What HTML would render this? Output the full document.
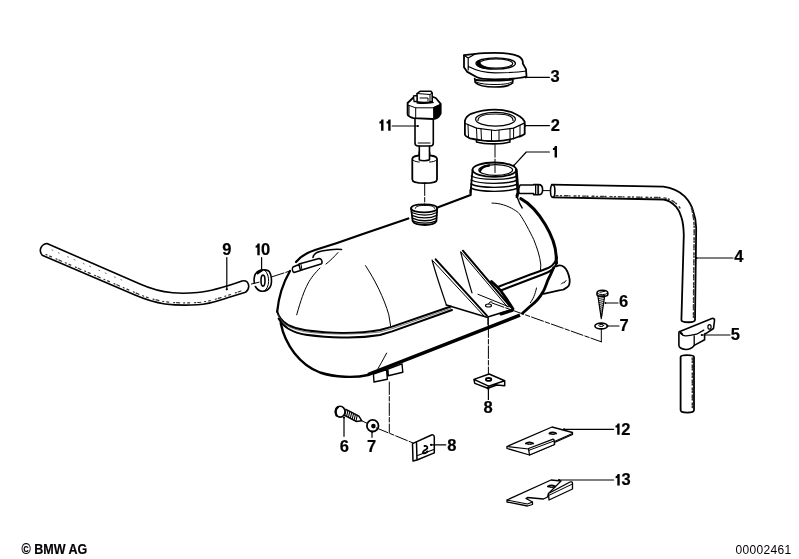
<!DOCTYPE html>
<html><head><meta charset="utf-8">
<style>
html,body{margin:0;padding:0;background:#fff;}
body{width:799px;height:559px;overflow:hidden;position:relative;}
svg{position:absolute;left:0;top:0;}
.t{font-family:"Liberation Sans",sans-serif;font-weight:bold;font-size:16.5px;fill:#000;stroke:#000;stroke-width:0.2px;}
</style></head><body>
<svg width="799" height="559" viewBox="0 0 799 559">
<g fill="none" stroke="#000" stroke-linecap="round" stroke-linejoin="round">

<!-- ===== Hose 9 ===== -->
<path stroke-width="1.6" d="M47,243.5 L140,284 C150,288.5 160,291.5 172.6,292.8 C180,293.4 190,293.2 197.6,292.5 C212,291.2 228,286 242,281 C249,279.5 251,288 245.5,292.3 L230,297 C220,300 210,304 197.6,304.8 C185,305.5 175,305.3 165,304 C155,302.5 145,299.3 135,295 L42.2,255.2 C38.5,251 40.5,244.5 47,243.5 Z"/>
<path stroke-width="1.2" stroke="#333" stroke-dasharray="1,3,2,5,1,2,3,4" d="M46,254.5 L135,292.6 C145,297 155,300.2 165,301.7 C175,303 185,303.2 197.6,302.5 C210,301.7 220,298 244,290"/>
<path stroke-width="1" stroke="#777" stroke-dasharray="1,6,1,9" d="M52,250 L125,281.5"/>

<!-- ===== Clamp 10 ===== -->
<path stroke-width="1.6" d="M262,270 C266,269.5 268.5,270 269.5,272 C271.5,275 272,281 271,285 C270,289 266,291.5 262,291.3 C259,291 256.5,288.5 255.4,286.5"/>
<path stroke-width="1.6" d="M254.4,283 C253.5,279 254.5,274 257,272 C259,270.5 260.5,270 262,270"/>
<ellipse cx="263" cy="280.6" rx="2" ry="5.5" stroke-width="1.6"/>
<path stroke-width="2.4" d="M257.5,273.2 L261.5,270.6"/>
<path stroke-width="1" d="M264.8,270.3 C267.5,272.5 268.8,277 268.6,281.5 C268.4,286 266.8,289.2 264.5,290.8"/>

<!-- ===== Tank ===== -->
<!-- top outline -->
<path stroke-width="2.2" d="M296,262 C300,257 307,252.5 315,250 C330,245.5 345,240.5 360,235 L408.3,218.5"/>
<path stroke-width="2.2" d="M438.1,207.2 L470.6,195 L470.6,190"/>
<!-- shoulder inner line -->
<path stroke-width="1.6" d="M313,257.5 C313.5,254 317,252 321,251.2 C328,249.8 334,248.5 341.5,249.5"/>
<!-- nipple -->
<path stroke-width="1.5" d="M299,264 L319,258.5 C322,258.5 323,263 321,264 L300,270.5 M293,267 L299,264.5 L300.5,270.5 L294,272.5 C292,271.5 292,268 293,267 Z"/>
<path stroke-width="1" d="M301,264.5 L302,270"/>
<!-- left end outer -->
<path stroke-width="2.3" d="M290,271 C283,283 278.5,298 277.2,311.5"/>
<!-- band (seam) -->
<path stroke-width="2" d="M277.2,311.5 C279,318 283,322 287.9,324.9 C293,327.5 300,329.5 305.8,330.2 C318,331.8 330,332.8 341.6,332.9 C355,333 368,332.2 380,330 L392.2,326.6 L450.7,306.5"/>
<path stroke-width="0.8" stroke="#555" d="M278,315 C281,320 284,324 289,326.8 C296,330 303,331.7 310,332.4 C330,334.5 355,334.8 380,332 L392.2,328.6 L451,308.3"/>
<path stroke-width="2" d="M278.6,318.6 C281,323 284,326 287.9,328.5 C293,331.5 300,334 305.8,334.7 C318,336.3 330,337.3 341.6,337.4 C355,337.8 368,337 380,335 L392.2,331.4 L452,310"/>
<path stroke-width="2" d="M499,286.5 L530.4,274.5 C540,271 547,269 549.8,267.2 C554,264.5 556,261 557,257.5"/>
<path stroke-width="2" d="M501.4,290.2 L542.5,274.5 C547,273 550,271.5 552.2,269.6 C555,267 556.5,265 557,262.4"/>
<!-- lower bowl left -->
<path stroke-width="1.4" fill="#fff" d="M373.4,374 L386.5,369.5 L387.4,379.2 L374,382 Z M387.9,369 L402,363.8 L402.8,372.2 L388.3,375.7 Z"/>
<path stroke-width="2.4" d="M280.7,323.1 C285,345 300,365 320,372.5 C335,377.5 355,378 368,375"/>
<!-- bottom long line -->
<path stroke-width="3.4" stroke-linecap="butt" d="M368,374.6 L373,372.6 L520,315.2"/>
<!-- right end -->
<path stroke-width="3" d="M520.8,198.6 C538,208 557,238 556.2,259.5 L556.5,263"/>
<path stroke-width="1.4" d="M517.5,197.9 C518.5,201 519.5,204 522.2,208"/>
<path stroke-width="2.8" d="M553.5,268 C551,274 549.5,277 547.9,280 C546,285 545,288 543.6,290.7 C541.5,294.5 539.5,297.5 537.2,300 C535,302.5 532.5,304.5 530,306.5 L522.5,313.2"/>
<path stroke-width="2.8" d="M491.5,281.5 C495.5,285 499,288.5 501.3,291.5 C505,297 509,302 513,309"/>
<!-- outlet -->
<path stroke-width="1.8" d="M556.7,266.3 C559,265 562,265.5 564,267 C566.5,269 568.5,273 569.6,279.1 C570,283 569,286 567.2,287.2 C565,289.5 562,290.2 559.1,290.4 L543.6,293.8"/>
<path stroke-width="1" d="M561.5,284 L563.5,282 M564,283 L566,280.5"/>
<!-- inner thin lines -->
<path stroke-width="1" d="M492,203.1 C500,203 508,206 513.6,209.4 C516,211 518,212 519.3,213.7 C524,220 530,232 533.7,239.4 C537,248 540,256 540.8,265 L540.5,270"/>
<path stroke-width="1" d="M536.5,288 C535,295 533,299 530.3,302.8"/>
<path stroke-width="1" d="M365.5,265.6 C375,280 384,298 388.8,314.8 L390.6,325.8"/>
<path stroke-width="1" d="M386.6,353.1 C383,360 380,365 377.7,369.2"/>
<path stroke-width="1" d="M320,268 C310,278 305,285 296.7,314.8"/>
<path stroke-width="1" d="M338,252.5 C334,257 330,261 326,264"/>

<!-- threaded fitting -->
<path stroke-width="1.8" d="M411.1,208.4 C411.1,205.5 418,204.4 424.1,204.4 C430.5,204.4 437.2,205.5 437.2,208.4 C437.2,211 430.5,212.4 424.1,212.4 C418,212.4 411.1,211 411.1,208.4 Z"/>
<path stroke-width="1" d="M415.3,208.3 C415.3,206 420,205.4 425,205.4 C430,205.4 434.6,206 434.6,208.3"/>
<path stroke-width="1.8" d="M411.1,208.4 L412.7,221.2 C414,224 420,225 425,225 C430,225 435,224 436.4,221.2 L437.2,208.4"/>
<path stroke-width="1.3" d="M411.6,212.5 C420,216 430,216 437,212.5 M411.9,215.3 C420,218.8 430,218.8 436.8,215.3 M412.2,218.1 C420,221.6 430,221.6 436.6,218.1 M412.5,220.8 C420,224 430,224 436.5,220.8"/>

<!-- neck -->
<ellipse cx="494.4" cy="169.7" rx="21.9" ry="7.2" stroke-width="1.8"/>
<ellipse cx="495.7" cy="170" rx="16.9" ry="5.3" stroke-width="1.2"/>
<path stroke-width="2.4" d="M480,171 C481,167.5 485,166 489,165.5"/>
<path stroke-width="1.8" d="M472.5,170 L470.6,192.5"/><path stroke-width="2.8" d="M516.3,170 L518,192.5 L517,197"/>
<path stroke-width="1.4" d="M471.3,176 C480,180.5 508,180.5 517.4,176 M471.1,180 C480,184.5 508,184.5 517.6,180 M470.9,184 C480,188.5 508,188.5 517.8,184 M470.7,188 C480,192.5 508,192.5 518,188"/>
<path stroke-width="1.8" d="M518,192.5 L516.4,195.5"/>
<!-- hose connector on neck -->
<path stroke-width="1.6" fill="#fff" d="M520,185 L533.6,185 L533.6,184.6 L538.6,184.6 C541.5,184.6 542.6,187 542.6,189.7 C542.6,192.5 541.5,194.8 538.6,194.8 L533.6,194.8 L533.6,193.5 L520,193.5 C518.5,193.5 518,189 520,185 Z"/>
<path stroke-width="1" d="M535.5,184.8 L535.5,194.6 M537.2,184.8 L537.2,194.6 M538.6,184.8 L538.6,194.6"/>

<!-- bracket -->
<path stroke-width="1.2" d="M432.1,260 C436,275 442,292 446.4,305"/>
<path stroke-width="2" d="M435.7,259.3 L486.9,315.6"/>
<path stroke-width="1" d="M433,261 L484,316"/>
<path stroke-width="1.2" d="M460.7,252 C464,265 468,280 472,292.9"/>
<path stroke-width="2" d="M462.9,250.7 L510.3,306.7"/>
<path stroke-width="1" d="M461,252 L507.5,307"/>
<path stroke-width="1.6" d="M446.4,305 L486.9,317.2 L510.3,310"/>
<path stroke-width="1" d="M478,294.3 L508.6,306.7"/>
<path stroke-width="1.6" d="M488.1,317.2 L488.1,324.5"/>
<ellipse cx="488.5" cy="305.5" rx="3" ry="1.5" stroke-width="1.2"/>
<path stroke-width="1" d="M488.5,304 L490,301.9 L492,302"/>
<path stroke-width="3" d="M501,314 L512,310.5"/>



<!-- ===== Part 11 ===== -->
<path stroke-width="1.8" fill="#fff" d="M407.6,103 L413.4,97.5 L422,95.3 L430,95.8 L435.8,98 L440.7,103.8 L440.7,113.6 C439,117 436,119 433.1,119 L413.4,118.1 C410,117 407.6,115.5 407.6,114.5 Z"/>
<path stroke-width="1" d="M408,105.1 L415.7,107.8 L433.1,107.8 L440.7,104.2 M409,105.5 L409,115.5 M415.7,107.8 L415.7,118.3"/>
<path fill="#000" stroke="none" d="M433.1,107.3 L440.9,103.8 L440.9,113.6 C439,117 436,119.2 433.1,119.2 Z"/>
<path fill="#000" stroke="none" d="M417,101 L432.5,100.5 L434,103 C428,104.2 421,104.3 416.5,103.5 Z"/>
<path stroke-width="1.5" fill="#fff" d="M417,101.8 L417,93.5 L420,91.3 L431,91.3 L432.2,93 L432.2,101.5 C428,102.5 421,102.5 417,101.8 Z"/>
<path stroke-width="1" d="M417,93.5 L430,94.5 L432.2,93 M430,94.5 L430,101.8 M420,98 L428,98 L428,100.5"/>
<path stroke-width="1.3" fill="#fff" d="M413.5,96 L417,95.5 L417,101.5 L414,101.5 Z"/>
<path stroke-width="1.6" d="M415,118.5 L415,143 C415,145.5 417,146 418.2,146 L430.5,146 C432,146 433.3,145 433.3,143 L433.3,119"/>
<path stroke-width="1.2" d="M418.2,143 L430,143"/>
<path stroke-width="1.6" d="M419.3,146 L419.3,156 M429.5,146 L429.5,156"/>
<path stroke-width="1.8" fill="#fff" d="M412.3,158.7 C412.3,156.5 418,155.2 424.7,155.2 C431,155.2 437,156.5 437,158.7 L437,179.4 C437,182 431,183.1 424.7,183.1 C418,183.1 412.3,182 412.3,179.4 Z"/>
<path stroke-width="1.6" fill="#fff" d="M419.3,152 L419.3,159.8 C421,161 427.5,161 429.5,159.8 L429.5,152"/>
<path stroke-width="1" d="M412.8,160 C415,161.5 417,162 419.3,162 M429.5,162 C432,162 435,161.5 436.5,160"/>

<!-- ===== Cap 2 ===== -->
<path stroke-width="1.8" d="M464.9,120.7 C466,117 468.5,115 471,113.8 C480,110.5 488,109.6 495,109.6 C505,109.6 515,112 522.8,118.9 L524.7,121.7 L524.7,134 C522,136 519.1,136.5 519.1,136.5 C512,139.5 503,141.1 495,141.1 C487,141.1 477,140 470,138.3 C467,137 464.9,135.5 464.9,134.6 Z"/>
<path stroke-width="1.2" d="M465.4,123.5 L476.5,128.1 L495,130.5 L513.6,128.1 L524.2,123.1"/>
<path stroke-width="1" d="M468,124.8 L468.5,137 M476.5,128.1 L477,139.5 M481,129 L481.5,140.2 M491.5,130.2 L491.5,141 M499,130.3 L499,141 M510,128.6 L510,139.8 M513.6,128.1 L513.6,139 M520,125.5 L520,137"/>
<ellipse cx="495.5" cy="119.3" rx="19.9" ry="6.9" stroke-width="1.2"/>
<path stroke-width="1.2" d="M478,120.5 C478,116 486,114 495.5,114 C505,114 513,116 513,120.5"/>
<path stroke-width="1.6" d="M476.5,140 L476.5,142 C485,144.5 502,144.5 509.9,142 L509.9,140"/>

<!-- ===== Cap 3 ===== -->
<path stroke-width="1.8" d="M464,67.2 L464,55.2 L475.6,53.8 C483,52.9 490,52.9 495,52.9 C505,52.9 513,54 518.2,56.1 C521,57.5 522.5,59.5 522.8,61.7 L522.8,63.5 L526,69.1 L526.5,76.5 C520,78.5 510,79.3 495,79.3 C486,79.3 479,78.5 476.5,77 L467.3,71.9 L464,67.2"/>
<path stroke-width="1.2" d="M464,55.2 L468.2,58 L468.2,70 M468.2,58 L475.6,53.8 M469,66.8 C475,70 485,72.8 495,72.8 C508,72.8 518,72.5 526,71"/>
<ellipse cx="495.7" cy="63.5" rx="19.7" ry="5.6" stroke-width="1.4"/>
<ellipse cx="496" cy="63.5" rx="16.7" ry="4.6" stroke-width="1.2"/>
<path fill="#000" stroke="none" d="M477.2,61.2 C475.5,64 477,67.6 484,68.9 C488,69.5 492,69.5 495,69.1 C489,68 483.5,66.5 481,63.8 C480.3,62.8 480.2,61.6 480.8,60.4 Z"/>
<path stroke-width="1.7" d="M474.7,78.5 L475.3,82.5 C478,85.5 487,87 495,87 C503,87 510,85.5 512.6,83 L513,78.5"/>
<path stroke-width="1" d="M476,82 C481,84.2 488,84.5 495,84.5 C503,84.5 509,83.8 512,82"/>
<path stroke-width="1.8" d="M476,80 C485,81 505,81 512,79.6"/>

<!-- ===== Hose 4 ===== -->
<path stroke-width="1.8" d="M551.7,184.6 L663.4,186.7 C673,188 680,192 684.7,196.3 C689,201 692,206 693.2,211.2 C695,216 696,221 696.2,228 L695,320 C695,323 681.4,323 681.4,320 L683.8,235 C683.6,228 683,222 681.5,217.6 C680,212 678,209 676.2,206.9 C672,202.5 668,200 663.4,199.5 L552.8,197.3"/>
<ellipse cx="552.7" cy="191" rx="2.2" ry="6.3" stroke-width="1.6"/>
<path stroke-width="1.4" stroke="#333" stroke-dasharray="2,2.5,1,3,3,1.5,1,4" d="M556,195.6 L662,197.6 C670,198.5 676,202 680,208"/><path stroke-width="1.5" stroke="#333" stroke-dasharray="2,1.5,1,2.5,3,1,1,3" d="M691.5,208 C693,214 694,220 694.2,228 L693.4,318"/>
<!-- clamp 5 -->
<path stroke-width="1.6" fill="#fff" d="M678.9,332.5 C679,331.5 680,331 680.5,331.3 L711.9,318.5 C713.5,318 714.8,319 714.5,320.5 L713.5,328.5 L706.2,333.3 L704.6,334 L704.6,339.8 L694.2,345.4 C692,348 689,349.5 686.1,349.5 C682,349.5 679,347.5 678.9,345.4 Z"/>
<path stroke-width="1.3" d="M680.5,333 C682,335 684,336 686.1,335.8 C690,335.8 693,335 696.6,334.2 L703.8,330.1 M694.2,336 L694.2,345.4"/>
<path stroke-width="2" d="M680.5,332.5 L682,334"/>
<ellipse cx="709.5" cy="326.9" rx="1.6" ry="2.2" stroke-width="1.2"/>
<!-- lower hose -->
<path stroke-width="1.8" d="M680.6,357 C680.6,354.5 694,354.5 694,357 L694,410 C694,413.5 680.6,413.5 680.6,410 Z"/>
<path stroke-width="1.5" stroke="#333" stroke-dasharray="2,1.5,1,2.5,3,1,1,3" d="M692.3,358 L692.3,410"/>

<!-- ===== screws/washers top ===== -->
<path stroke-width="1.6" fill="#fff" d="M597,293 C597,289.3 607.8,289.3 607.8,293 L607.8,294.8 C607.8,296.8 597,296.8 597,294.8 Z"/>
<path stroke-width="1" d="M597.5,293.5 C599,295 606,295 607.3,293.5 M600,292.3 L605,291.2"/>
<path stroke-width="1.2" d="M598,296.5 L601.3,318.6 L604.6,296.5"/>
<path stroke-width="0.9" d="M598.07,296.50 L604.53,295.50 M598.35,298.50 L604.25,297.50 M598.63,300.50 L603.97,299.50 M598.91,302.50 L603.69,301.50 M599.19,304.50 L603.41,303.50 M599.47,306.50 L603.13,305.50 M599.76,308.50 L602.84,307.50 M600.04,310.50 L602.56,309.50 M600.32,312.50 L602.28,311.50 M600.60,314.50 L602.00,313.50 M600.88,316.50 L601.72,315.50"/>
<ellipse cx="601.2" cy="326" rx="6.3" ry="2.9" stroke-width="1.6"/>
<ellipse cx="601.2" cy="325.5" rx="2.4" ry="1" stroke-width="1"/>
<path stroke-width="1" d="M601.3,329 L601.3,341.8"/>
<!-- bottom screw -->
<path stroke-width="1.5" fill="#fff" d="M345.89,409.34 L358.89,416.14 L361.8,420.8 L356.11,421.46 L343.11,414.66"/>
<path stroke-width="1.1" d="M344.75,415.51 L346.11,409.46 M346.60,416.49 L347.97,410.43 M348.46,417.46 L349.82,411.40 M350.32,418.43 L351.68,412.37 M352.18,419.40 L353.54,413.34 M354.03,420.37 L355.40,414.31 M355.89,421.34 L357.25,415.29"/>
<ellipse cx="340.2" cy="411.7" rx="4.8" ry="5.4" stroke-width="1.6" fill="#fff"/>
<path stroke-width="2.2" d="M338,407 C335.5,408.5 335,412.5 336.5,415.5"/>
<path stroke-width="1" d="M361.8,420.8 L367.5,423.5"/>
<circle cx="372.7" cy="425.7" r="5.8" stroke-width="1.8" fill="#fff"/>
<circle cx="373.4" cy="426.1" r="2.3" fill="#000" stroke="none"/>
<!-- nuts 8 -->
<path stroke-width="1.5" d="M473.9,379.4 L489.1,374 L504.7,380.7 L488.6,386.1 Z M473.9,379.4 L474.8,383.4 L487.7,388.3 L488.6,386.1 M487.7,388.3 L496.7,385 L504.7,385.7 L504.7,380.7"/>
<ellipse cx="488.6" cy="379.4" rx="2.7" ry="1.4" stroke-width="1.8"/>
<path stroke-width="1.5" d="M412.5,443.6 L431.5,435 C433,434.5 434.3,435.5 434.3,437.2 L434.3,452.9 L417,460 L413,461 Z M416.5,442 L417,460"/>
<path stroke-width="1.1" d="M417.5,455.5 L433.8,449.5"/>
<path stroke-width="1.8" d="M424.5,446 C427.5,445.5 428.5,448 426,449.5 C424,450.5 422.5,451.5 423,453 C424.5,454 426.5,452.5 427.5,451.5"/>

<!-- plates 12, 13 -->
<path stroke-width="1.3" fill="#fff" d="M507,446.5 L552,427 L572.5,432.5 L572.5,434.5 L554.5,442.5 L554.5,444.5 L529.5,455 L507,448.5 Z"/>
<path stroke-width="1.1" d="M507,446.5 L528.5,449 M554.5,441.5 L572.5,433.5"/>
<path stroke-width="1.3" fill="#fff" d="M528.5,448.5 L552.5,439.3 C553.5,439 554,439.5 554,440 L554.5,444.5 L529.5,455 Z"/>
<path stroke-width="1" d="M529,450.3 L554,441"/>
<path stroke-width="2" d="M549.5,433.5 C551,432 555,432 556,433.5 M526,443.5 C527,442 532,442 533,443.5"/>
<path stroke-width="1" d="M549.5,433.5 C551,435 555,435 556,433.5 M526,443.5 C527,445 532,445 533,443.5"/>
<path stroke-width="1.3" fill="#fff" d="M507,500 L551,480 L561,481 L548.5,493.5 L547.5,497 L543.5,499 L527.5,497.5 L526,498.5 L532.5,502 L532.5,504.5 L527.5,506 L507,502 Z"/>
<path stroke-width="1.1" d="M507,500 L527.5,504 L532.5,502"/>
<path stroke-width="1.3" fill="#fff" d="M548.5,493.5 L570,482 C571.5,481.5 572.5,482 572.5,483 L572.5,489 L549,500 Z"/>
<path stroke-width="1" d="M549,495.3 L572,484.2"/>
<path stroke-width="2" d="M548,486.5 C550,485 554,485 555,486.5"/>
<path stroke-width="1" d="M548,486.5 C550,488 554,488 555,486.5"/>

<!-- ===== leader lines ===== -->
<path stroke-width="1.2" d="M226.8,257.5 L226.8,289.3 M261.6,257.7 L261.6,270 M392.2,126 L417.8,126 M525.8,77.3 L549.4,77.3 M525.1,125.7 L549.4,125.7 M513.8,165.6 L526.3,152 L549.4,152 M696.4,258 L733,258 M701.8,335 L730,335 M606.8,303 L618,303 M606.8,326 L619,326 M344,417.5 L344,436.3 M372,431.6 L372,437.3 M430.7,444.8 L445.8,444.8 M564,429.3 L613.6,429.3 M559,480 L613.6,480 M488.4,388.8 L488.4,399.5"/>
<!-- leader dots -->
<circle cx="226.8" cy="289.3" r="1.1" fill="#000" stroke="none"/> <circle cx="261.6" cy="270.3" r="1.1" fill="#000" stroke="none"/> <circle cx="417.8" cy="126" r="1.1" fill="#000" stroke="none"/> <circle cx="525.8" cy="77.3" r="1.1" fill="#000" stroke="none"/> <circle cx="525.1" cy="125.7" r="1.1" fill="#000" stroke="none"/> <circle cx="513.8" cy="165.6" r="1.1" fill="#000" stroke="none"/> <circle cx="696.4" cy="258" r="1.1" fill="#000" stroke="none"/> <circle cx="701.8" cy="335" r="1.1" fill="#000" stroke="none"/> <circle cx="605.5" cy="303" r="1.1" fill="#000" stroke="none"/> <circle cx="607.5" cy="326" r="1.1" fill="#000" stroke="none"/> <circle cx="344" cy="417.5" r="1.1" fill="#000" stroke="none"/> <circle cx="372" cy="431.8" r="1.1" fill="#000" stroke="none"/> <circle cx="431.1" cy="444.8" r="1.1" fill="#000" stroke="none"/> <circle cx="564" cy="429.3" r="1.1" fill="#000" stroke="none"/> <circle cx="559" cy="480" r="1.1" fill="#000" stroke="none"/> <circle cx="488.4" cy="388.8" r="1.1" fill="#000" stroke="none"/>
<!-- dashed lines -->
<g stroke-width="1" stroke-dasharray="12.5,2,4.5,2">
<path d="M251.4,284 L259.1,282.2 M272,276.8 L290,271"/>
<path d="M424.7,183 L424.7,205"/>
<path d="M495,144.7 L495,172.5"/>
<path d="M488.4,325 L488.4,374"/>
<path d="M492,303 L601.3,341.8"/>
<path d="M389.3,382 L389.3,432.5"/>
<path d="M376.3,427.9 L412.9,442.9"/>
<path d="M542.6,190.6 L550,190.6"/>
</g>
</g>

<!-- labels -->
<g style="filter:grayscale(1)">
<text class="t" x="222.23" y="255.10">9</text>
<text class="t" x="261.02" y="255.00">0</text>
<text class="t" x="550.51" y="81.80">3</text>
<text class="t" x="550.65" y="130.60">2</text>
<text class="t" x="734.33" y="262.00">4</text>
<text class="t" x="730.68" y="339.80">5</text>
<text class="t" x="618.91" y="307.30">6</text>
<text class="t" x="619.42" y="330.80">7</text>
<text class="t" x="339.81" y="451.80">6</text>
<text class="t" x="367.02" y="451.80">7</text>
<text class="t" x="447.21" y="450.80">8</text>
<text class="t" x="483.51" y="413.30">8</text>
<text class="t" x="621.15" y="434.50">2</text>
<text class="t" x="621.41" y="485.20">3</text>
<path fill="#000" stroke="none" d="M259.70,243.60 L259.70,255.20 L257.30,255.20 L257.30,247.60 L255.60,247.80 L255.60,245.80 C256.80,245.60 257.40,244.60 257.60,243.60 Z M383.50,119.40 L383.50,130.80 L381.10,130.80 L381.10,123.40 L379.40,123.60 L379.40,121.60 C380.60,121.40 381.20,120.40 381.40,119.40 Z M390.60,119.40 L390.60,130.80 L388.20,130.80 L388.20,123.40 L386.50,123.60 L386.50,121.60 C387.70,121.40 388.30,120.40 388.50,119.40 Z M619.60,423.40 L619.60,434.80 L617.20,434.80 L617.20,427.40 L615.50,427.60 L615.50,425.60 C616.70,425.40 617.30,424.40 617.50,423.40 Z M619.70,474.00 L619.70,485.50 L617.30,485.50 L617.30,478.00 L615.60,478.20 L615.60,476.20 C616.80,476.00 617.40,475.00 617.60,474.00 Z M557.00,145.90 L557.00,157.40 L554.60,157.40 L554.60,149.90 L552.90,150.10 L552.90,148.10 C554.10,147.90 554.70,146.90 554.90,145.90 Z"/>

<text class="t" transform="translate(21.5,553.6) scale(0.815,1)" x="0" y="0" style="font-size:15.4px">© BMW AG</text>
<text x="735.6" y="553.7" style="font-family:'Liberation Sans',sans-serif;font-size:12px;letter-spacing:0.3px;fill:#000">00002461</text>
</g>
</svg>
</body></html>
